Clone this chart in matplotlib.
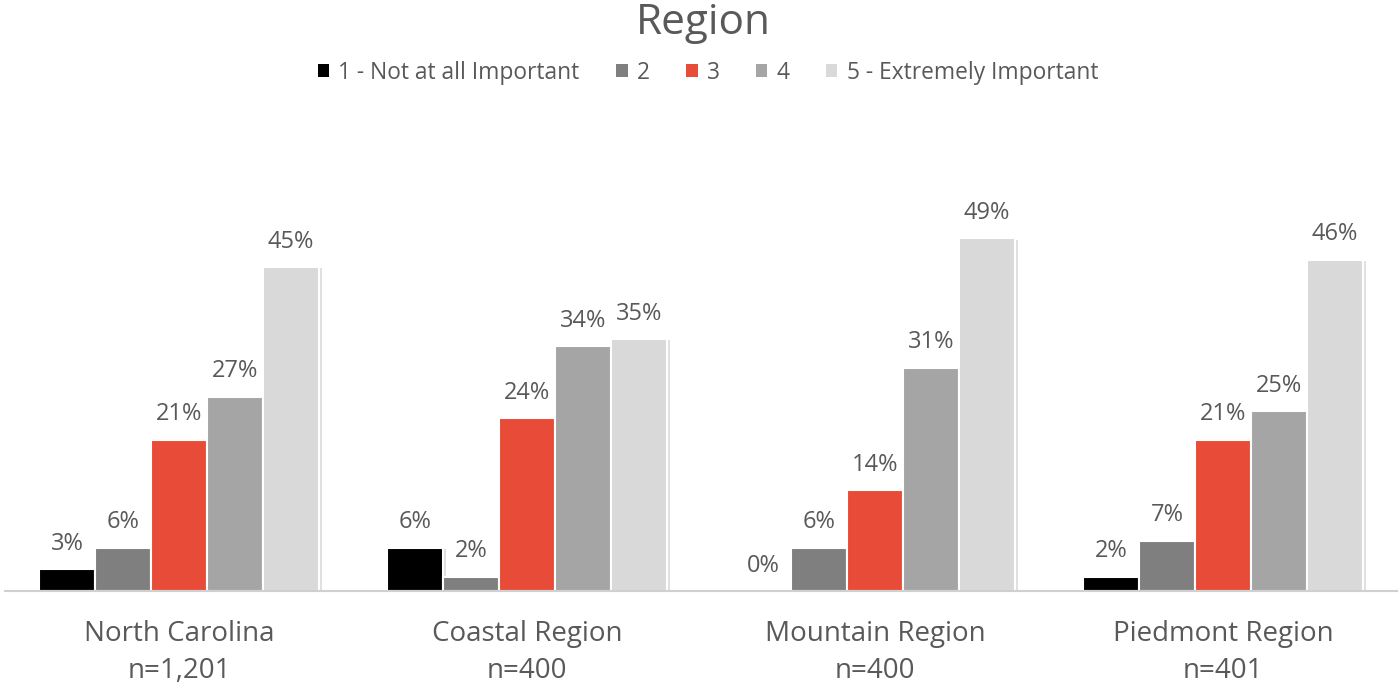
import matplotlib
matplotlib.use("Agg")
import matplotlib.pyplot as plt
import matplotlib.patheffects as pe
from matplotlib.patches import Patch
import numpy as np

plt.rcParams['font.family'] = ['Open Sans', 'DejaVu Sans']

categories = ["North Carolina\nn=1,201", "Coastal Region\nn=400",
              "Mountain Region\nn=400", "Piedmont Region\nn=401"]
series_names = ["1 - Not at all Important", "2", "3", "4", "5 - Extremely Important"]
series_colors = ["#000000", "#7f7f7f", "#e84b37", "#a5a5a5", "#d9d9d9"]
values = {
    "1 - Not at all Important": [3, 6, 0, 2],
    "2": [6, 2, 6, 7],
    "3": [21, 24, 14, 21],
    "4": [27, 34, 31, 25],
    "5 - Extremely Important": [45, 35, 49, 46],
}

text_color = "#595959"

fig = plt.figure(figsize=(13.99, 6.90), dpi=100)
ax = fig.add_axes([5 / 1399, (690 - 591) / 690, 1392 / 1399, 432 / 690])

x = np.arange(len(categories))
n = len(series_names)
group_w = 0.805
bar_w = group_w / n
shadow = [pe.SimplePatchShadow(offset=(2, -1), shadow_rgbFace="#000000", alpha=0.12), pe.Normal()]

for i, name in enumerate(series_names):
    pos = x - group_w / 2 + bar_w * (i + 0.5)
    bars = ax.bar(pos, values[name], width=bar_w, color=series_colors[i],
                  edgecolor="white", linewidth=1.5, zorder=3)
    for b in bars:
        b.set_path_effects(shadow)
    for p, v in zip(pos, values[name]):
        ax.annotate(f"{v}%", (p, v), xytext=(0, 14), textcoords="offset points",
                    ha="center", va="baseline", fontsize=17, color=text_color)

ax.set_xlim(-0.5, len(categories) - 0.5)
ax.set_ylim(0, 60)
ax.set_yticks([])
for s in ["top", "right", "left"]:
    ax.spines[s].set_visible(False)
ax.spines["bottom"].set_color("#d0d0d0")
ax.spines["bottom"].set_linewidth(1.5)
ax.spines["bottom"].set_zorder(4)
ax.set_xticks(x)
ax.set_xticklabels(categories, fontsize=20, color=text_color, linespacing=1.42)
ax.tick_params(axis="x", length=0, pad=21)

fig.text(703 / 1399, 1 - 23 / 690, "Region", ha="center", va="center",
         fontsize=30.5, color=text_color)

handles = [Patch(facecolor=c, edgecolor="none") for c in series_colors]
fig.legend(handles, series_names, loc="center", bbox_to_anchor=(708 / 1399, 1 - 73 / 690),
           ncol=5, frameon=False, fontsize=16.4, labelcolor=text_color,
           handlelength=0.5, handleheight=0.5, handletextpad=0.4,
           columnspacing=1.6)

fig.savefig("out.png", dpi=100)
